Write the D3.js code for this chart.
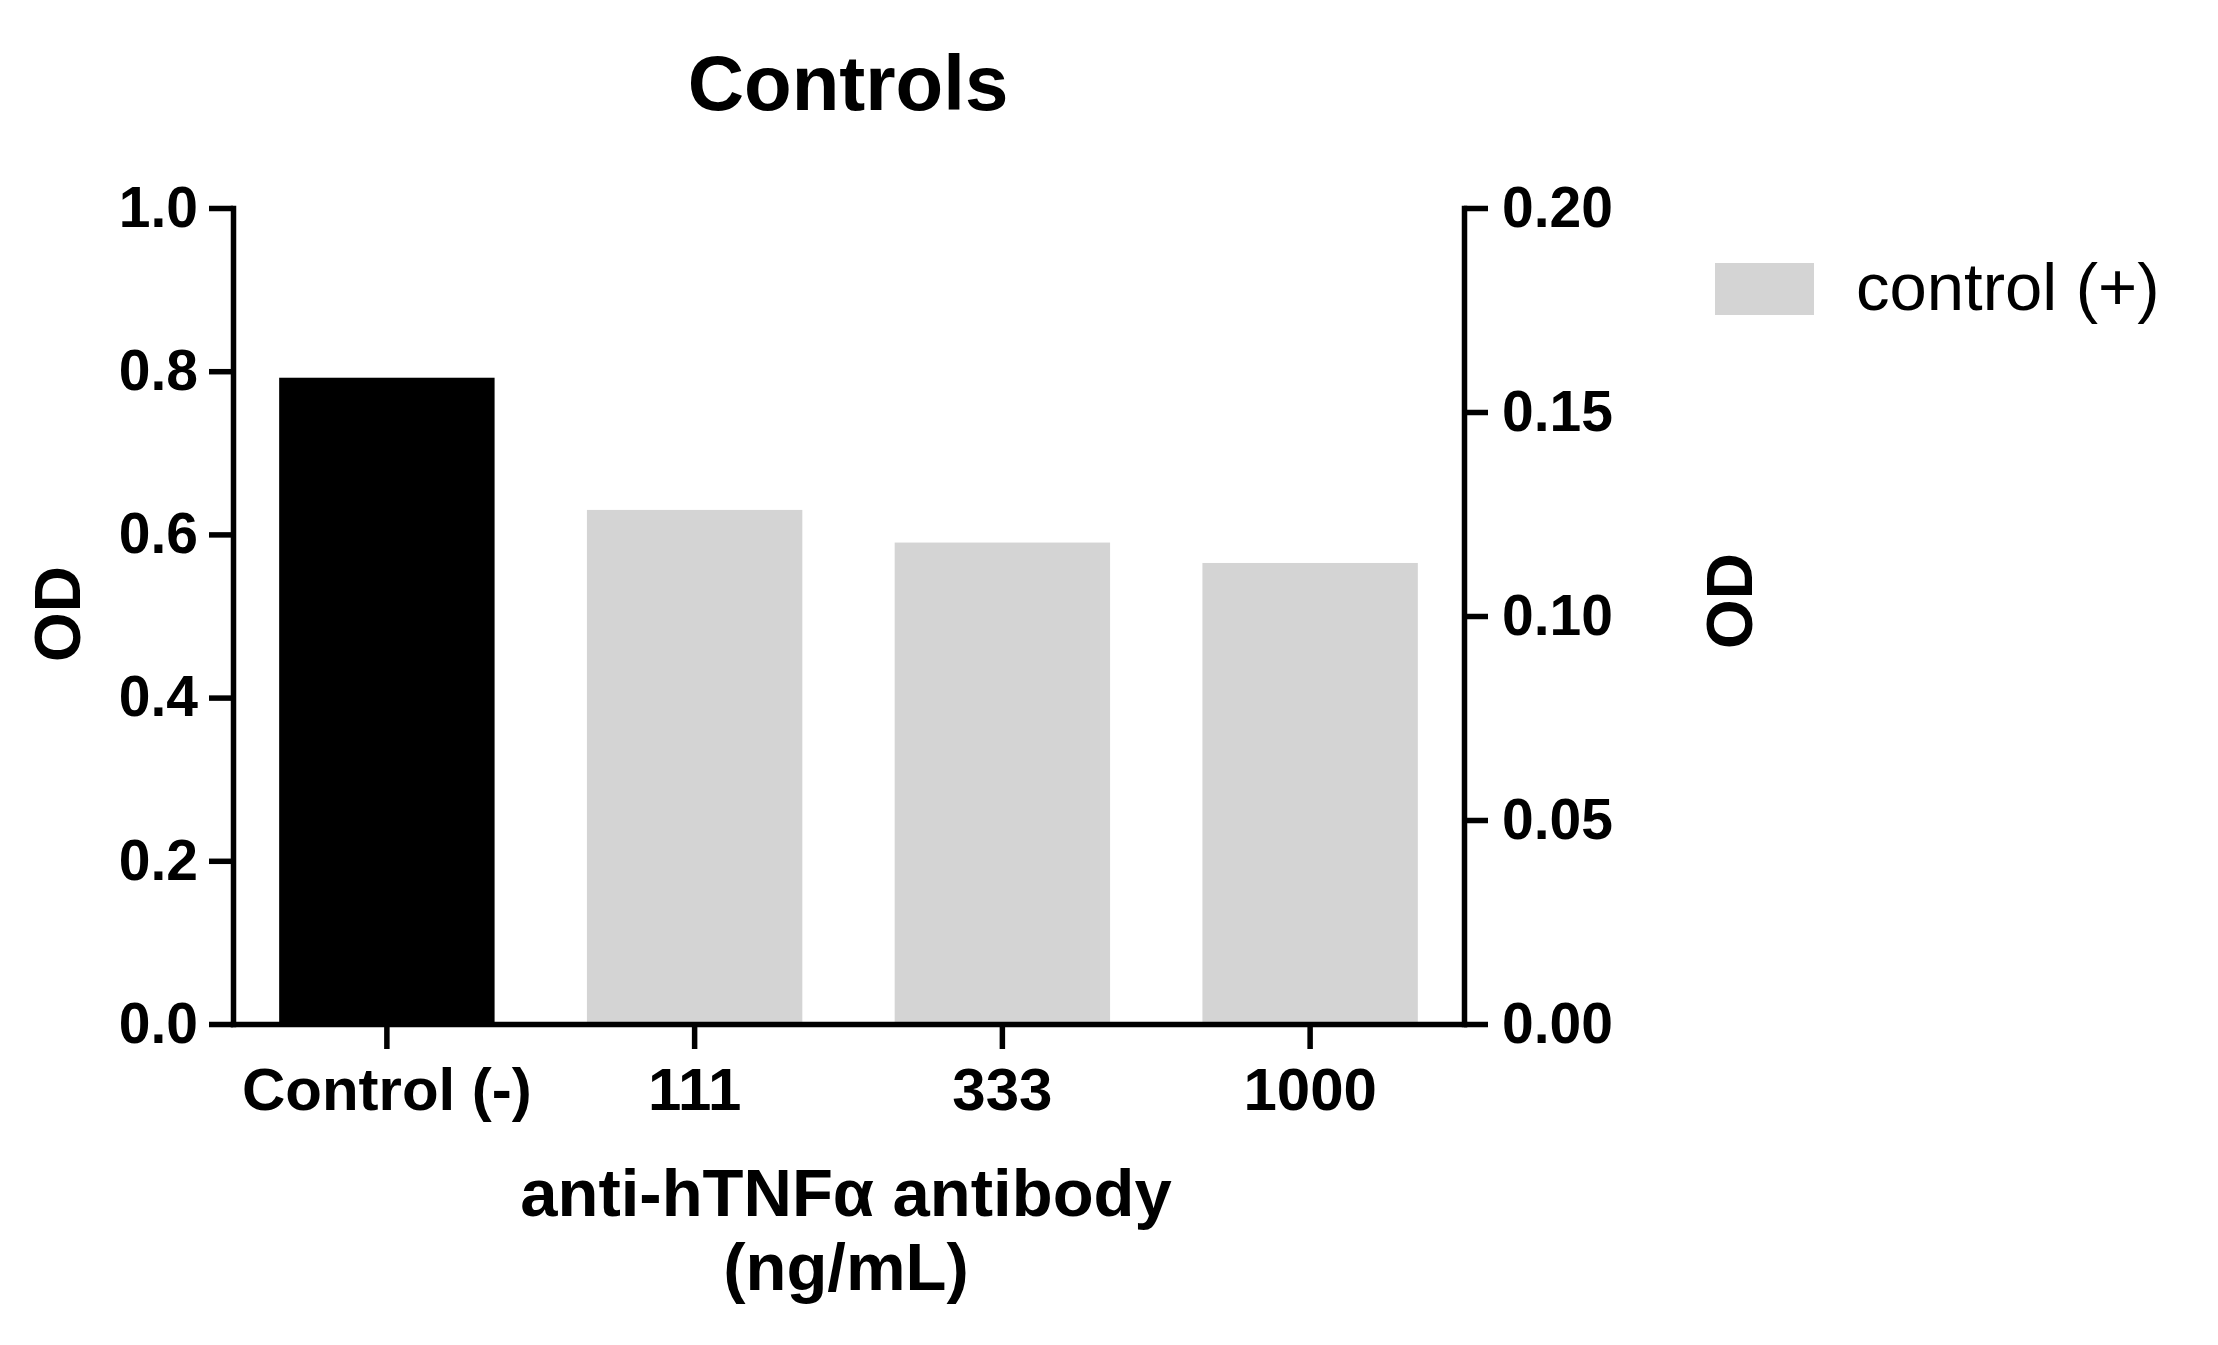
<!DOCTYPE html>
<html>
<head>
<meta charset="utf-8">
<script src="https://cdn.jsdelivr.net/npm/d3@7"></script>
<style>
  html, body { margin: 0; padding: 0; background: #fff; }
  svg text { font-family: "Liberation Sans", Arial, sans-serif; fill: #000; }
</style>
</head>
<body>
<svg id="chart" width="2218" height="1345"></svg>
<script>
// ---- data ----
const categories = ["Control (-)", "111", "333", "1000"];
const negCategories = ["Control (-)"];
const negValues = [0.792];                // left axis OD
const posCategories = ["111", "333", "1000"];
const posValues = [0.126, 0.118, 0.113];  // right axis OD
const leftTicks = [0.0, 0.2, 0.4, 0.6, 0.8, 1.0];
const rightTicks = [0.00, 0.05, 0.10, 0.15, 0.20];
const titleText = "Controls";
const xTitleLines = ["anti-hTNF\u03B1 antibody", "(ng/mL)"];
const yLabel = "OD";
const legendLabel = "control (+)";

// ---- layout ----
const svg = d3.select("#chart");
const pLeft = 233, pRight = 1464, pTop = 208, pBottom = 1024;
const grey = "#d4d4d4";
const lw = 5.5;

const x = d3.scaleBand().domain(categories).range([pLeft, pRight])
  .paddingInner(0.3).paddingOuter(0.15);
const yL = d3.scaleLinear().domain([0, 1.0]).range([pBottom, pTop]);
const yR = d3.scaleLinear().domain([0, 0.20]).range([pBottom, pTop]);

// bars
svg.append("g").selectAll("rect").data(negCategories).join("rect")
  .attr("x", d => x(d)).attr("width", x.bandwidth())
  .attr("y", (d, i) => yL(negValues[i]))
  .attr("height", (d, i) => yL(0) - yL(negValues[i]))
  .attr("fill", "#000");

svg.append("g").selectAll("rect").data(posCategories).join("rect")
  .attr("x", d => x(d)).attr("width", x.bandwidth())
  .attr("y", (d, i) => yR(posValues[i]))
  .attr("height", (d, i) => yR(0) - yR(posValues[i]))
  .attr("fill", grey);

function styleAxis(g, fs) {
  g.selectAll("path.domain").attr("stroke", "#000").attr("stroke-width", lw).attr("stroke-linecap", "square");
  g.selectAll(".tick line").attr("stroke", "#000").attr("stroke-width", lw);
  g.selectAll(".tick text").attr("font-size", fs).attr("font-weight", "bold").attr("fill", "#000");
  g.attr("font-family", null);
}

// left axis
const gL = svg.append("g").attr("transform", `translate(${pLeft},0)`)
  .call(d3.axisLeft(yL).tickValues(leftTicks).tickFormat(d3.format(".1f"))
    .tickSize(24).tickSizeOuter(0).tickPadding(11));
styleAxis(gL, 57);

// right axis
const gR = svg.append("g").attr("transform", `translate(${pRight},0)`)
  .call(d3.axisRight(yR).tickValues(rightTicks).tickFormat(d3.format(".2f"))
    .tickSize(24).tickSizeOuter(0).tickPadding(14));
styleAxis(gR, 57);

// bottom axis
const gB = svg.append("g").attr("transform", `translate(0,${pBottom})`)
  .call(d3.axisBottom(x).tickSize(25).tickSizeOuter(0).tickPadding(18));
styleAxis(gB, 60);
gB.selectAll(".tick text").attr("dy", "0.71em");

// title
svg.append("text").attr("x", 848).attr("y", 110).attr("text-anchor", "middle")
  .attr("font-size", 78).attr("font-weight", "bold").text(titleText);

// x title
svg.append("g").selectAll("text").data(xTitleLines).join("text")
  .attr("x", 846).attr("y", (d, i) => 1216 + i * 74)
  .attr("text-anchor", "middle").attr("font-size", 67).attr("font-weight", "bold")
  .text(d => d);

// y labels
svg.append("text").attr("transform", "translate(80,614) rotate(-90)")
  .attr("text-anchor", "middle").attr("font-size", 64).attr("font-weight", "bold").text(yLabel);
svg.append("text").attr("transform", "translate(1752,601) rotate(-90)")
  .attr("text-anchor", "middle").attr("font-size", 64).attr("font-weight", "bold").text(yLabel);

// legend
const lg = svg.append("g");
lg.append("rect").attr("x", 1715).attr("y", 263).attr("width", 99).attr("height", 52).attr("fill", grey);
lg.append("text").attr("x", 1856).attr("y", 310).attr("font-size", 67).text(legendLabel);
</script>
</body>
</html>
